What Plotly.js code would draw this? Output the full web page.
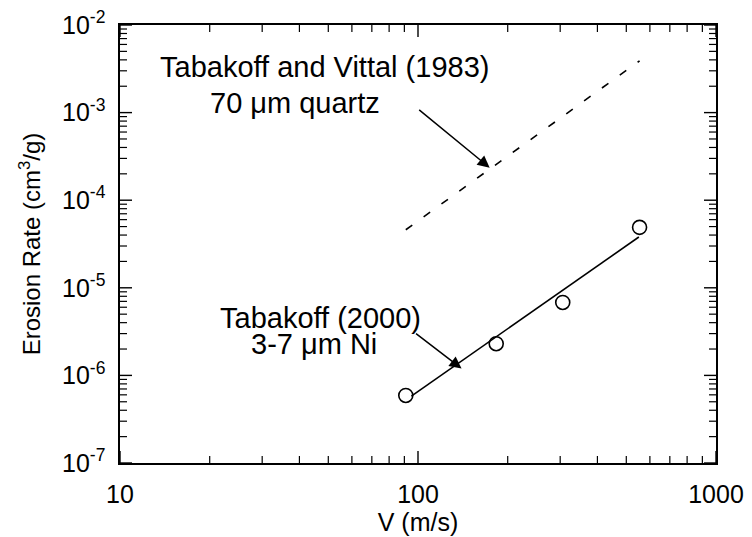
<!DOCTYPE html>
<html>
<head>
<meta charset="utf-8">
<script src="https://cdn.plot.ly/plotly-3.0.1.min.js"></script>
<style>
  html, body { margin: 0; padding: 0; background: #fff; }
  #chart { width: 752px; height: 537px; }
</style>
</head>
<body>
<div id="chart"></div>
<script>
// Tabakoff (2000), 3-7 um Ni: measured erosion rates
const vNi = [91, 183, 306, 554];
const eNi = [5.9e-7, 2.3e-6, 6.8e-6, 4.9e-5];

// Power-law fit through the Ni measurements
const vNiFit = [95, 551];
const eNiFit = [5.8e-7, 3.8e-5];

// Tabakoff and Vittal (1983), 70 um quartz correlation
const vQuartz = [91, 554];
const eQuartz = [4.6e-5, 3.9e-3];

// Axis ticks
const xTickVals = [10, 100, 1000];
const xTickText = ['10', '100', '1000'];
const yTickVals = [1e-7, 1e-6, 1e-5, 1e-4, 1e-3, 1e-2];
const yTickText = ['10<sup>-7</sup>', '10<sup>-6</sup>', '10<sup>-5</sup>',
                   '10<sup>-4</sup>', '10<sup>-3</sup>', '10<sup>-2</sup>'];

const FONT = 'Liberation Sans, Arial, Helvetica, sans-serif';
const X_RANGE = [1, 3];   // log10 of 10 .. 1000
const Y_RANGE = [-7, -2]; // log10 of 1e-7 .. 1e-2

// Minor tick values at 2..9 inside each decade
function minorTicks(lo, hi) {
  const out = [];
  for (let p = lo; p < hi; p++) {
    for (let m = 2; m <= 9; m++) out.push(m * Math.pow(10, p));
  }
  return out;
}

// Fraction of the plot area for a value on a log axis
function frac(v, range) {
  return (Math.log10(v) - range[0]) / (range[1] - range[0]);
}

// Inward tick marks on all four sides of the frame, drawn as shapes
function tickShapes() {
  const shapes = [];
  const line = (w) => ({ color: '#000', width: w });
  const addX = (v, len, w) => {
    const f = frac(v, X_RANGE);
    shapes.push({ type: 'line', xref: 'paper', yref: 'paper', x0: f, x1: f,
                  ysizemode: 'pixel', yanchor: 0, y0: 0, y1: len, line: line(w), layer: 'above' });
    shapes.push({ type: 'line', xref: 'paper', yref: 'paper', x0: f, x1: f,
                  ysizemode: 'pixel', yanchor: 1, y0: 0, y1: -len, line: line(w), layer: 'above' });
  };
  const addY = (v, len, w) => {
    const f = frac(v, Y_RANGE);
    shapes.push({ type: 'line', xref: 'paper', yref: 'paper', y0: f, y1: f,
                  xsizemode: 'pixel', xanchor: 0, x0: 0, x1: len, line: line(w), layer: 'above' });
    shapes.push({ type: 'line', xref: 'paper', yref: 'paper', y0: f, y1: f,
                  xsizemode: 'pixel', xanchor: 1, x0: 0, x1: -len, line: line(w), layer: 'above' });
  };
  xTickVals.forEach(v => addX(v, 12, 1.4));
  minorTicks(X_RANGE[0], X_RANGE[1]).forEach(v => addX(v, 7, 1.2));
  yTickVals.forEach(v => addY(v, 12, 1.4));
  minorTicks(Y_RANGE[0], Y_RANGE[1]).forEach(v => addY(v, 7, 1.2));
  return shapes;
}

const traces = [
  {
    x: vQuartz, y: eQuartz, mode: 'lines', type: 'scatter',
    line: { color: '#000', width: 1.6, dash: '8px,14px' },
    hoverinfo: 'skip'
  },
  {
    x: vNiFit, y: eNiFit, mode: 'lines', type: 'scatter',
    line: { color: '#000', width: 1.6 },
    hoverinfo: 'skip'
  },
  {
    x: vNi, y: eNi, mode: 'markers', type: 'scatter',
    marker: { symbol: 'circle-open', size: 14, color: '#000', line: { width: 1.6 } },
    hoverinfo: 'skip'
  }
];

function logAxis(extra) {
  return Object.assign({
    type: 'log',
    showgrid: false,
    zeroline: false,
    showline: true,
    linecolor: '#000',
    linewidth: 1.6,
    mirror: true,
    ticks: '',
    tickmode: 'array',
    ticklabelstandoff: 8,
    tickfont: { family: FONT, size: 25, color: '#000' }
  }, extra);
}

const annFont = { family: FONT, size: 29, color: '#000' };

const layout = {
  width: 752, height: 537,
  margin: { l: 120, r: 36, t: 25, b: 74 },
  paper_bgcolor: '#fff', plot_bgcolor: '#fff',
  showlegend: false,
  xaxis: logAxis({
    range: X_RANGE,
    tickvals: xTickVals, ticktext: xTickText,
    title: { text: 'V (m/s)', font: { family: FONT, size: 25, color: '#000' }, standoff: 0 }
  }),
  yaxis: logAxis({
    range: Y_RANGE,
    tickvals: yTickVals, ticktext: yTickText,
    title: { text: 'Erosion Rate (cm<sup>3</sup>/g)', font: { family: FONT, size: 24, color: '#000' }, standoff: 14 }
  }),
  shapes: tickShapes(),
  annotations: [
    { xref: 'paper', yref: 'paper', xanchor: 'center', yanchor: 'middle',
      x: (324 - 120) / 596, y: (463 - 67) / 438,
      text: 'Tabakoff and Vittal (1983)', showarrow: false, font: annFont },
    { xref: 'paper', yref: 'paper', xanchor: 'center', yanchor: 'middle',
      x: (295 - 120) / 596, y: (463 - 103) / 438,
      text: '70 \u03bcm quartz', showarrow: false, font: annFont },
    { xref: 'paper', yref: 'paper', xanchor: 'center', yanchor: 'middle',
      x: (320 - 120) / 596, y: (463 - 318) / 438,
      text: 'Tabakoff (2000)', showarrow: false, font: annFont },
    { xref: 'paper', yref: 'paper', xanchor: 'center', yanchor: 'middle',
      x: (314 - 120) / 596, y: (463 - 344) / 438,
      text: '3-7 \u03bcm Ni', showarrow: false, font: annFont },
    // Arrows pointing at the two curves
    { x: Math.log10(174), y: Math.log10(2.35e-4), text: '', showarrow: true,
      ax: -72, ay: -59, arrowhead: 2, arrowsize: 1.6, arrowwidth: 1.5, arrowcolor: '#000' },
    { x: Math.log10(140), y: Math.log10(1.2e-6), text: '', showarrow: true,
      ax: -47, ay: -36, arrowhead: 2, arrowsize: 1.6, arrowwidth: 1.5, arrowcolor: '#000' }
  ]
};

Plotly.newPlot('chart', traces, layout, { staticPlot: true, displayModeBar: false });
</script>
</body>
</html>
